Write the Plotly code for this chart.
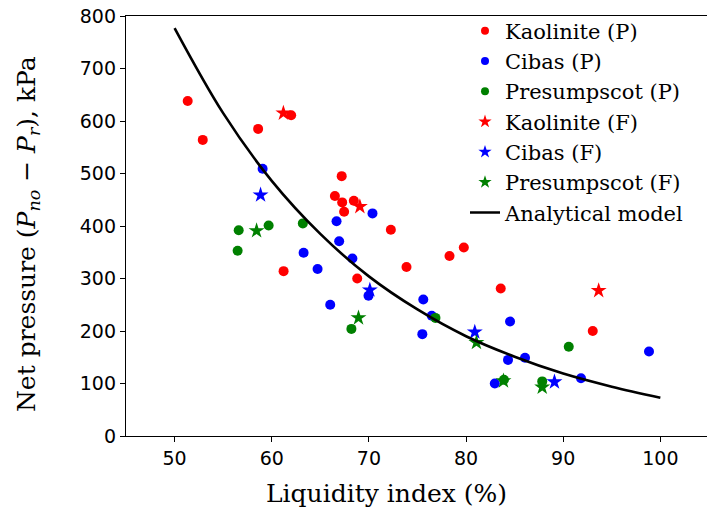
import plotly.graph_objects as go

# Measured net pressure vs liquidity index, per soil and test type
kaolinite_p_x = [51.35, 52.9, 62.0, 58.6, 67.2, 66.5, 67.25, 67.45, 68.45, 72.26,
                 61.22, 68.8, 73.87, 78.3, 79.77, 83.57, 93.04]
kaolinite_p_y = [638, 564, 611, 585, 495, 457, 445, 427, 448, 393,
                 314, 300, 322, 343, 359, 281, 200]

kaolinite_f_x = [61.2, 69.07, 93.65]
kaolinite_f_y = [615, 437, 277]

cibas_p_x = [59.06, 70.37, 66.67, 66.94, 63.28, 68.3, 64.72, 69.96, 66.02, 75.6,
             76.47, 75.5, 84.53, 84.32, 86.07, 98.83, 82.96, 91.83]
cibas_p_y = [509, 424, 409, 371, 349, 338, 318, 267, 250, 260,
             229, 194, 218, 145, 149, 161, 100, 110]

cibas_f_x = [58.85, 70.1, 80.9, 89.1]
cibas_f_y = [459, 278, 198, 103]

presumpscot_p_x = [63.2, 56.6, 59.68, 56.49, 68.2, 76.85, 90.57, 83.9, 87.84]
presumpscot_p_y = [405, 392, 401, 353, 204, 225, 170, 107, 104]

presumpscot_f_x = [58.44, 68.93, 81.07, 83.85, 87.84]
presumpscot_f_y = [391, 225, 178, 105, 93]

# Analytical model curve
model_x = [50, 55, 60, 65, 70, 75, 80, 85, 90, 95, 100]
model_y = [777, 615, 486, 385, 304, 241, 190, 151, 119, 94, 73]

x_ticks = [50, 60, 70, 80, 90, 100]
y_ticks = [0, 100, 200, 300, 400, 500, 600, 700, 800]

RED, BLUE, GREEN = "#ff0000", "#0000ff", "#008000"
SERIF = "DejaVu Serif"

series = [
    ("Kaolinite (P)", kaolinite_p_x, kaolinite_p_y, RED, "circle"),
    ("Cibas (P)", cibas_p_x, cibas_p_y, BLUE, "circle"),
    ("Presumpscot (P)", presumpscot_p_x, presumpscot_p_y, GREEN, "circle"),
    ("Kaolinite (F)", kaolinite_f_x, kaolinite_f_y, RED, "star"),
    ("Cibas (F)", cibas_f_x, cibas_f_y, BLUE, "star"),
    ("Presumpscot (F)", presumpscot_f_x, presumpscot_f_y, GREEN, "star"),
]

fig = go.Figure()

for name, xs, ys, color, sym in series:
    size = 10 if sym == "circle" else 12
    fig.add_trace(go.Scatter(
        x=xs, y=ys, mode="markers", name=name, showlegend=False,
        marker=dict(color=color, symbol=sym, size=size, line=dict(width=0)),
    ))

fig.add_trace(go.Scatter(
    x=model_x, y=model_y, mode="lines", name="Analytical model", showlegend=False,
    line=dict(color="black", width=2.6, shape="spline"),
))

# Legend entries (smaller handles than the plotted markers)
for name, xs, ys, color, sym in series:
    fig.add_trace(go.Scatter(
        x=[None], y=[None], mode="markers", name=name,
        marker=dict(color=color, symbol=sym, size=8 if sym == "circle" else 10,
                    line=dict(width=0)),
    ))
fig.add_trace(go.Scatter(
    x=[None], y=[None], mode="lines", name="Analytical model",
    line=dict(color="black", width=2.6),
))

fig.update_layout(
    width=707, height=510,
    margin=dict(l=126, r=0, t=16, b=74),
    plot_bgcolor="white", paper_bgcolor="white",
    showlegend=True,
    legend=dict(
        x=(465 - 126) / 581, y=1.013, xanchor="left", yanchor="top",
        bgcolor="rgba(0,0,0,0)", borderwidth=0,
        font=dict(family=SERIF, size=21, color="black"),
        tracegroupgap=0, itemwidth=30,
    ),
    xaxis=dict(
        range=[45, 104.8], tickvals=x_ticks, ticks="outside", ticklen=5,
        tickcolor="black", tickwidth=1, showgrid=False, zeroline=False,
        showline=True, linecolor="black", linewidth=1.3, mirror=True,
        tickfont=dict(family="DejaVu Sans", size=19, color="black"),
    ),
    yaxis=dict(
        range=[0, 800], tickvals=y_ticks, ticks="outside", ticklen=5,
        tickcolor="black", tickwidth=1, showgrid=False, zeroline=False,
        showline=True, linecolor="black", linewidth=1.3,
        tickfont=dict(family="DejaVu Sans", size=19, color="black"),
    ),
    annotations=[
        dict(
            text="Liquidity index (%)", xref="paper", yref="paper",
            x=(386 - 126) / 581, y=-(493 - 436) / 420, xanchor="center", yanchor="middle",
            showarrow=False, font=dict(family=SERIF, size=25, color="black"),
        ),
        dict(
            text="Net pressure (<i>P</i><sub><i>no</i></sub> − <i>P</i><sub><i>r</i></sub>), kPa",
            xref="paper", yref="paper", textangle=-90,
            x=(28 - 126) / 581, y=(436 - 234) / 420, xanchor="center", yanchor="middle",
            showarrow=False, font=dict(family=SERIF, size=25, color="black"),
        ),
    ],
)

fig.write_html("out.html")
